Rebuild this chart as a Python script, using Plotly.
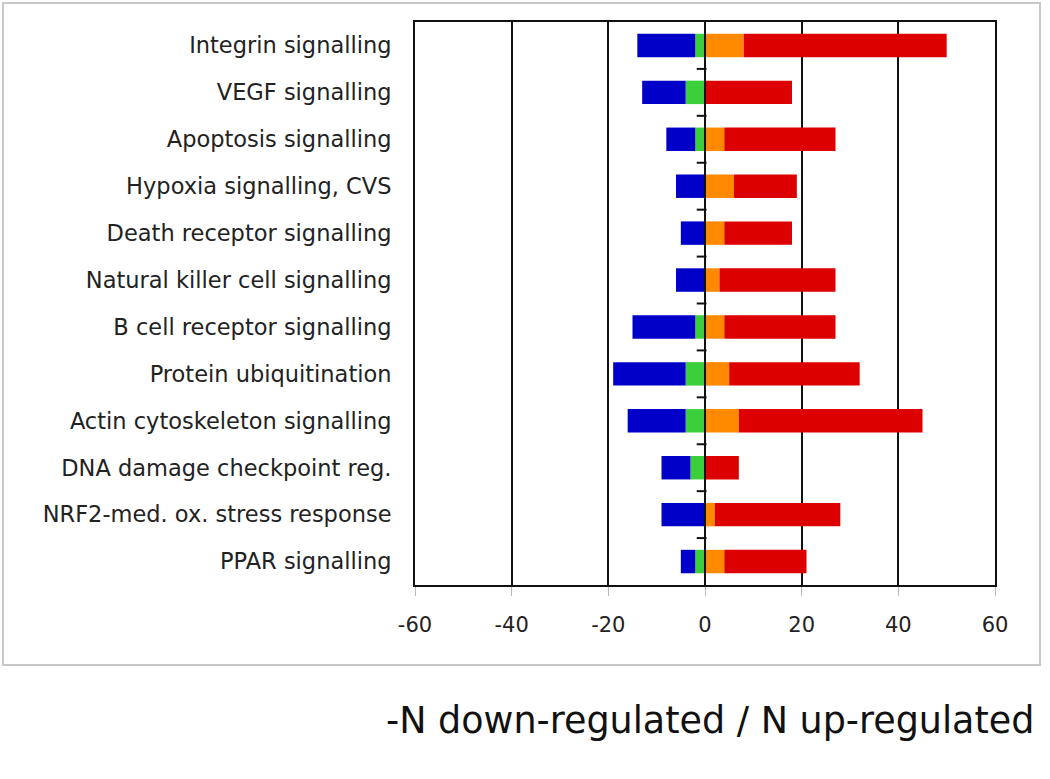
import plotly.graph_objects as go

pathways = [
    "Integrin signalling",
    "VEGF signalling",
    "Apoptosis signalling",
    "Hypoxia signalling, CVS",
    "Death receptor signalling",
    "Natural killer cell signalling",
    "B cell receptor signalling",
    "Protein ubiquitination",
    "Actin cytoskeleton signalling",
    "DNA damage checkpoint reg.",
    "NRF2-med. ox. stress response",
    "PPAR signalling",
]
strong_down = [12, 9, 6, 6, 5, 6, 13, 15, 12, 6, 9, 3]
moderate_down = [2, 4, 2, 0, 0, 0, 2, 4, 4, 3, 0, 2]
moderate_up = [8, 0, 4, 6, 4, 3, 4, 5, 7, 0, 2, 4]
strong_up = [42, 18, 23, 13, 14, 24, 23, 27, 38, 7, 26, 17]
x_ticks = [-60, -40, -20, 0, 20, 40, 60]

ypos = list(range(len(pathways)))
boundaries = [i + 0.5 for i in range(len(pathways) - 1)]

BLUE = "#0000c8"
GREEN = "#3ccf3c"
ORANGE = "#ff8a00"
RED = "#dc0000"
FONT = "DejaVu Sans, Verdana, sans-serif"

fig = go.Figure()
fig.add_trace(go.Bar(y=ypos, x=[-v for v in moderate_down], orientation="h",
                     marker=dict(color=GREEN, line=dict(width=0)), width=0.5, name="moderate down"))
fig.add_trace(go.Bar(y=ypos, x=[-v for v in strong_down], orientation="h",
                     marker=dict(color=BLUE, line=dict(width=0)), width=0.5, name="strong down"))
fig.add_trace(go.Bar(y=ypos, x=moderate_up, orientation="h",
                     marker=dict(color=ORANGE, line=dict(width=0)), width=0.5, name="moderate up"))
fig.add_trace(go.Bar(y=ypos, x=strong_up, orientation="h",
                     marker=dict(color=RED, line=dict(width=0)), width=0.5, name="strong up"))
# small category tick marks on the zero line
fig.add_trace(go.Scatter(x=[-0.7] * len(boundaries), y=boundaries, mode="markers",
                         marker=dict(symbol="line-ew", size=7, line=dict(width=2, color="#111")),
                         hoverinfo="skip"))

fig.add_shape(type="line", x0=0, x1=0, y0=0, y1=1, xref="x", yref="paper",
              line=dict(color="#111", width=2), layer="above")

# plot area in pixels
L, R, T, B = 415, 995, 22, 585
W, H = R - L, B - T
def px(xp):
    return (xp - L) / W
def py(yp):
    return (B - yp) / H

# outer light frame
fig.add_shape(type="rect", xref="paper", yref="paper",
              x0=px(3), x1=px(1040), y0=py(665), y1=py(3),
              line=dict(color="#c8c8c8", width=2), layer="below")

fig.add_annotation(text="-N down-regulated / N up-regulated", xref="paper", yref="paper",
                   x=px(1036), y=py(720), xanchor="right", yanchor="middle", showarrow=False,
                   font=dict(family=FONT, size=36.5, color="#111"))

fig.update_layout(
    barmode="relative",
    width=1050, height=779,
    margin=dict(l=L, r=1050 - R, t=T, b=779 - B),
    paper_bgcolor="white", plot_bgcolor="white",
    showlegend=False,
    font=dict(family=FONT, size=20, color="#222"),
)
fig.update_xaxes(
    range=[-60, 60], tickvals=x_ticks, ticktext=[str(v) for v in x_ticks],
    showgrid=True, gridcolor="#111", gridwidth=2,
    zeroline=False,
    showline=True, linecolor="#111", linewidth=2, mirror=True,
    ticks="outside", ticklen=9, tickcolor="#bbbbbb", tickwidth=1,
    ticklabelstandoff=11,
    tickfont=dict(family=FONT, size=21, color="#222"),
)
fig.update_yaxes(
    range=[len(pathways) - 0.5, -0.5], tickvals=ypos, ticktext=pathways,
    showgrid=False, zeroline=False,
    showline=True, linecolor="#111", linewidth=2, mirror=True,
    ticks="", ticklabelstandoff=17,
    tickfont=dict(family=FONT, size=22.5, color="#222"),
)

fig.write_html("out.html", config={"displayModeBar": False},
               post_script="document.body.style.margin='0';")
